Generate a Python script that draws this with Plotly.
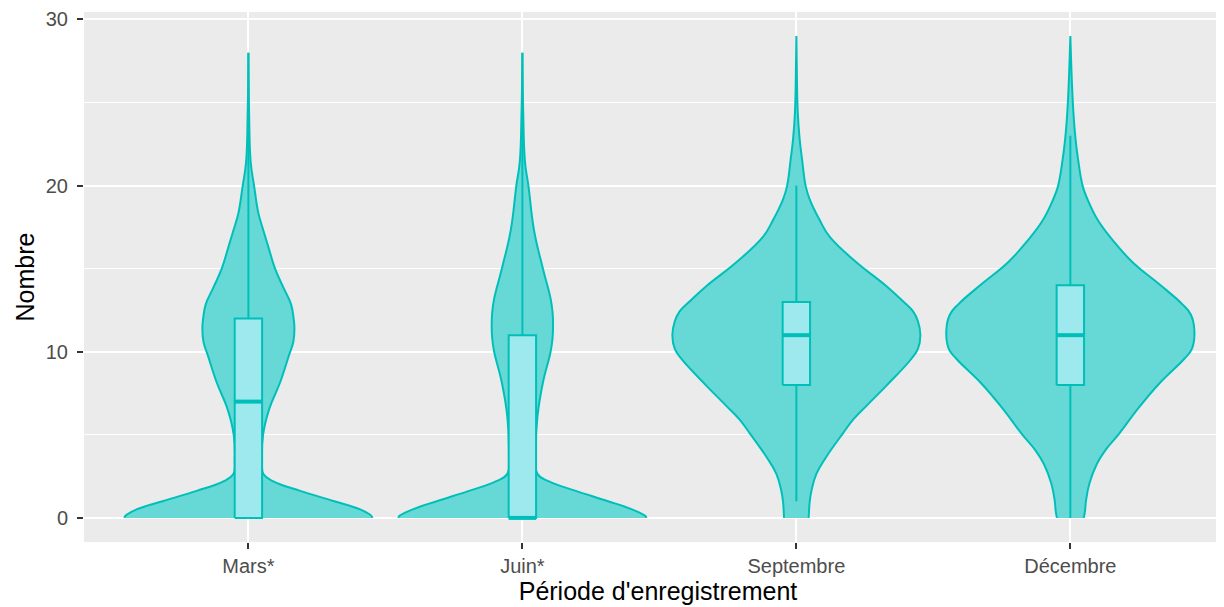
import plotly.graph_objects as go

periodes = ["Mars*", "Juin*", "Septembre", "Décembre"]

# profils des violons : niveau (Nombre) et demi-largeur
mars_y = [0, 0.1, 0.51, 1.02, 1.63, 2.2, 2.65, 3.46, 5.0, 6.52, 8.15, 9.78, 10.6, 11.41, 12.02, 12.84, 13.86, 15.0, 16.3, 17.3, 18.34, 20.0, 21.4, 24.45, 28.0]
mars_w = [0.452, 0.45, 0.408, 0.31, 0.189, 0.091, 0.0547, 0.0499, 0.0535, 0.0754, 0.1156, 0.148, 0.164, 0.168, 0.165, 0.156, 0.128, 0.0973, 0.073, 0.0547, 0.0365, 0.0207, 0.0085, 0.0025, 0.0]

juin_y = [0, 0.1, 0.51, 1.02, 1.63, 2.2, 2.65, 4.08, 6.1, 8.15, 10.0, 10.8, 11.6, 12.4, 13.2, 15.0, 17.3, 20.0, 21.4, 24.45, 28.0]
juin_w = [0.452, 0.45, 0.40, 0.31, 0.195, 0.097, 0.055, 0.049, 0.055, 0.075, 0.103, 0.11, 0.112, 0.11, 0.103, 0.075, 0.0426, 0.022, 0.0097, 0.003, 0.0]

sept_y = [0, 1.02, 1.63, 2.65, 3.67, 5.09, 5.91, 6.73, 7.95, 9.58, 10.19, 11.0, 11.82, 12.43, 13.04, 13.96, 15.39, 16.91, 17.93, 19.16, 19.97, 21.6, 22.8, 24.45, 27.5, 29.0]
sept_w = [0.045, 0.049, 0.055, 0.073, 0.109, 0.170, 0.207, 0.255, 0.328, 0.42, 0.444, 0.4526, 0.444, 0.426, 0.389, 0.328, 0.219, 0.122, 0.085, 0.049, 0.034, 0.0207, 0.012, 0.005, 0.0012, 0.0]

dec_y = [0, 0.41, 1.02, 2.04, 3.26, 4.08, 5.09, 6.62, 8.15, 9.58, 10.19, 11.31, 12.23, 12.84, 14.06, 15.39, 16.71, 17.93, 19.16, 19.97, 21.6, 22.8, 24.45, 26.5, 29.0]
dec_w = [0.049, 0.0535, 0.057, 0.069, 0.097, 0.128, 0.179, 0.249, 0.328, 0.416, 0.444, 0.4526, 0.44, 0.41, 0.325, 0.227, 0.155, 0.10, 0.063, 0.045, 0.028, 0.019, 0.011, 0.005, 0.0]

profils_y = [mars_y, juin_y, sept_y, dec_y]
profils_w = [mars_w, juin_w, sept_w, dec_w]

# boxplots
q1 = [0, 0, 8, 8]
mediane = [7, 0, 11, 11]
q3 = [12, 11, 13, 14]
moustache_bas = [0, 0, 1, 0]
moustache_haut = [28, 28, 20, 23]

CONTOUR = "#00BFB9"
REMPLI = "#66D9D6"
BOITE = "#9DE9EE"
LARGEUR_BOITE = 0.1

fig = go.Figure()

for i, (ys, ws) in enumerate(zip(profils_y, profils_w)):
    pos = i + 1
    xs = [pos + w for w in ws] + [pos - w for w in reversed(ws)]
    yy = list(ys) + list(reversed(ys))
    fig.add_trace(go.Scatter(
        x=xs, y=yy, mode="lines", fill="toself",
        fillcolor=REMPLI, line=dict(color=CONTOUR, width=2, shape="spline", smoothing=1.2),
        hoverinfo="skip", showlegend=False,
    ))

positions = [i + 1 for i in range(len(periodes))]
demi = LARGEUR_BOITE / 2
for pos, a, m, b, lo, hi in zip(positions, q1, mediane, q3, moustache_bas, moustache_haut):
    # moustaches
    fig.add_trace(go.Scatter(
        x=[pos, pos, None, pos, pos], y=[b, hi, None, lo, a],
        mode="lines", line=dict(color=CONTOUR, width=2),
        hoverinfo="skip", showlegend=False,
    ))
    # boite
    fig.add_trace(go.Scatter(
        x=[pos - demi, pos + demi, pos + demi, pos - demi, pos - demi],
        y=[a, a, b, b, a],
        mode="lines", fill="toself", fillcolor=BOITE,
        line=dict(color=CONTOUR, width=2),
        hoverinfo="skip", showlegend=False,
    ))
    # mediane plus epaisse, comme ggplot
    fig.add_trace(go.Scatter(
        x=[pos - demi, pos + demi], y=[m, m],
        mode="lines", line=dict(color=CONTOUR, width=4),
        hoverinfo="skip", showlegend=False,
    ))

fig.update_layout(
    width=1224, height=607,
    margin=dict(l=76, r=0, t=2, b=73),
    paper_bgcolor="white", plot_bgcolor="#EBEBEB",
    font=dict(family="Liberation Sans, Arial, sans-serif", color="black"),
    showlegend=False,
)
fig.update_xaxes(
    range=[0.4, 4.59], tickvals=positions, ticktext=periodes,
    showgrid=True, gridcolor="white", gridwidth=2, zeroline=False,
    ticks="outside", ticklen=6, tickwidth=2, tickcolor="#333333",
    tickfont=dict(size=20, color="#4D4D4D"),
    title=dict(text="Période d'enregistrement", font=dict(size=25, color="black"), standoff=5),
)
fig.update_yaxes(
    range=[-1.45, 30.45], tickvals=[0, 10, 20, 30],
    showgrid=True, gridcolor="white", gridwidth=2, zeroline=False,
    minor=dict(tickvals=[5, 15, 25], showgrid=True, gridcolor="white", gridwidth=1, ticks=""),
    ticks="outside", ticklen=6, tickwidth=2, tickcolor="#333333",
    ticklabelstandoff=5, ticklabeloverflow="allow",
    tickfont=dict(size=20, color="#4D4D4D"),
    title=dict(text="Nombre", font=dict(size=25, color="black"), standoff=4),
)

fig.write_html("out.html")
